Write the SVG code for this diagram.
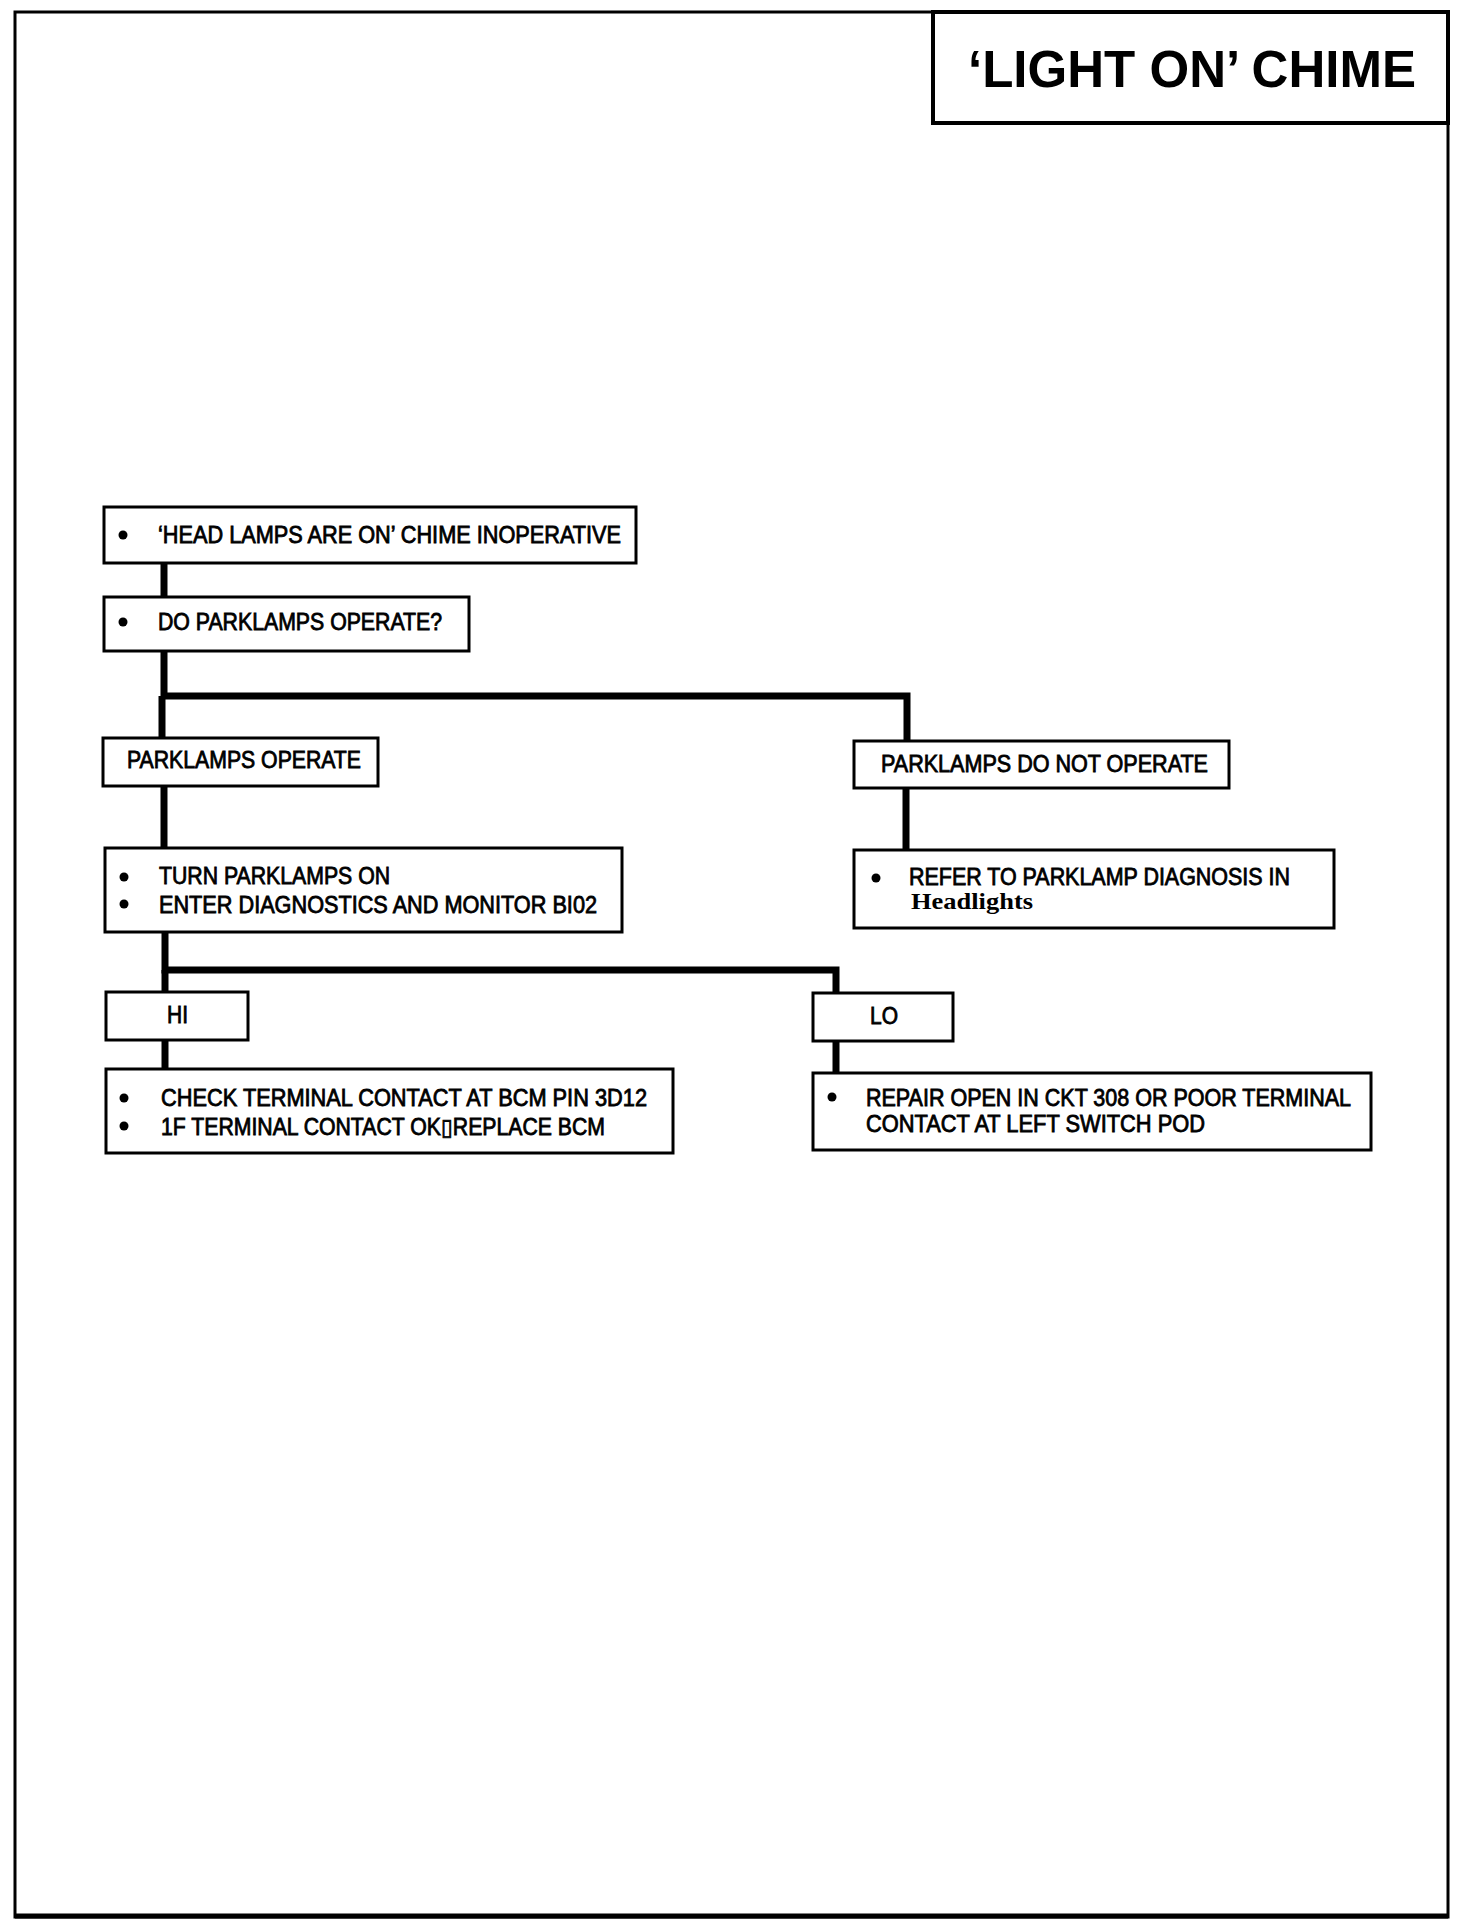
<svg xmlns="http://www.w3.org/2000/svg" width="1472" height="1930" viewBox="0 0 1472 1930">
<style>
.box{fill:#fff;stroke:#000;stroke-width:3}
.t{font-family:"Liberation Sans",Arial,sans-serif;font-size:23px;fill:#000;stroke:#000;stroke-width:0.8}
.s{font-family:"Liberation Serif","Times New Roman",serif;font-size:23px;font-weight:bold;fill:#000}
.title{font-family:"Liberation Sans",Arial,sans-serif;font-size:52px;font-weight:bold;fill:#000}
.c{fill:none;stroke:#000;stroke-width:7;stroke-linejoin:miter}
.b{fill:#000}
</style>
<rect width="1472" height="1930" fill="#fff"/>
<g id="page">
<rect x="15" y="12" width="1433" height="1905" fill="none" stroke="#000" stroke-width="3"/>
<line x1="15" y1="1916" x2="1448" y2="1916" stroke="#000" stroke-width="5"/>
</g>
<g id="title">
<rect x="933" y="12" width="515" height="111" fill="#fff" stroke="#000" stroke-width="4"/>
<text class="title" x="968" y="87" textLength="448" lengthAdjust="spacingAndGlyphs">‘LIGHT ON’ CHIME</text>
</g>
<g id="connectors">
<line class="c" x1="164" y1="562" x2="164" y2="597"/>
<polyline class="c" points="164,651 164,696 907,696 907,741"/>
<line class="c" x1="162" y1="696" x2="162" y2="738"/>
<line class="c" x1="164" y1="785" x2="164" y2="848"/>
<line class="c" x1="906" y1="788" x2="906" y2="850"/>
<polyline class="c" points="165,932 165,970 836,970 836,993"/>
<line class="c" x1="165" y1="970" x2="165" y2="992"/>
<line class="c" x1="165" y1="1040" x2="165" y2="1068"/>
<line class="c" x1="836" y1="1040" x2="836" y2="1073"/>
</g>
<g id="n1">
<rect class="box" x="104" y="507" width="532" height="56"/>
<circle class="b" cx="123" cy="535" r="4.5"/>
<text class="t" x="158" y="543" textLength="463" lengthAdjust="spacingAndGlyphs">‘HEAD LAMPS ARE ON’ CHIME INOPERATIVE</text>
</g>
<g id="n2">
<rect class="box" x="104" y="597" width="365" height="54"/>
<circle class="b" cx="123" cy="622" r="4.5"/>
<text class="t" x="158" y="630" textLength="284" lengthAdjust="spacingAndGlyphs">DO PARKLAMPS OPERATE?</text>
</g>
<g id="n3">
<rect class="box" x="103" y="738" width="275" height="48"/>
<text class="t" x="127" y="768" textLength="234" lengthAdjust="spacingAndGlyphs">PARKLAMPS OPERATE</text>
</g>
<g id="n4">
<rect class="box" x="854" y="741" width="375" height="47"/>
<text class="t" x="881" y="772" textLength="327" lengthAdjust="spacingAndGlyphs">PARKLAMPS DO NOT OPERATE</text>
</g>
<g id="n5">
<rect class="box" x="105" y="848" width="517" height="84"/>
<circle class="b" cx="124" cy="877" r="4.5"/>
<circle class="b" cx="124" cy="904" r="4.5"/>
<text class="t" x="159" y="884" textLength="231" lengthAdjust="spacingAndGlyphs">TURN PARKLAMPS ON</text>
<text class="t" x="159" y="913" textLength="438" lengthAdjust="spacingAndGlyphs">ENTER DIAGNOSTICS AND MONITOR BI02</text>
</g>
<g id="n6">
<rect class="box" x="854" y="850" width="480" height="78"/>
<circle class="b" cx="876" cy="878" r="4.5"/>
<text class="t" x="909" y="885" textLength="381" lengthAdjust="spacingAndGlyphs">REFER TO PARKLAMP DIAGNOSIS IN</text>
<text class="s" x="911" y="909" textLength="122" lengthAdjust="spacingAndGlyphs">Headlights</text>
</g>
<g id="n7">
<rect class="box" x="106" y="992" width="142" height="48"/>
<text class="t" x="167" y="1023" textLength="21" lengthAdjust="spacingAndGlyphs">HI</text>
</g>
<g id="n8">
<rect class="box" x="813" y="993" width="140" height="48"/>
<text class="t" x="870" y="1024" textLength="28" lengthAdjust="spacingAndGlyphs">LO</text>
</g>
<g id="n9">
<rect class="box" x="106" y="1069" width="567" height="84"/>
<circle class="b" cx="124" cy="1098" r="4.5"/>
<circle class="b" cx="124" cy="1126" r="4.5"/>
<text class="t" x="161" y="1106" textLength="486" lengthAdjust="spacingAndGlyphs">CHECK TERMINAL CONTACT AT BCM PIN 3D12</text>
<text class="t" x="161" y="1135" textLength="444" lengthAdjust="spacingAndGlyphs">1F TERMINAL CONTACT OK▯REPLACE BCM</text>
</g>
<g id="n10">
<rect class="box" x="813" y="1073" width="558" height="77"/>
<circle class="b" cx="832" cy="1097" r="4.5"/>
<text class="t" x="866" y="1106" textLength="485" lengthAdjust="spacingAndGlyphs">REPAIR OPEN IN CKT 308 OR POOR TERMINAL</text>
<text class="t" x="866" y="1132" textLength="339" lengthAdjust="spacingAndGlyphs">CONTACT AT LEFT SWITCH POD</text>
</g>
</svg>
